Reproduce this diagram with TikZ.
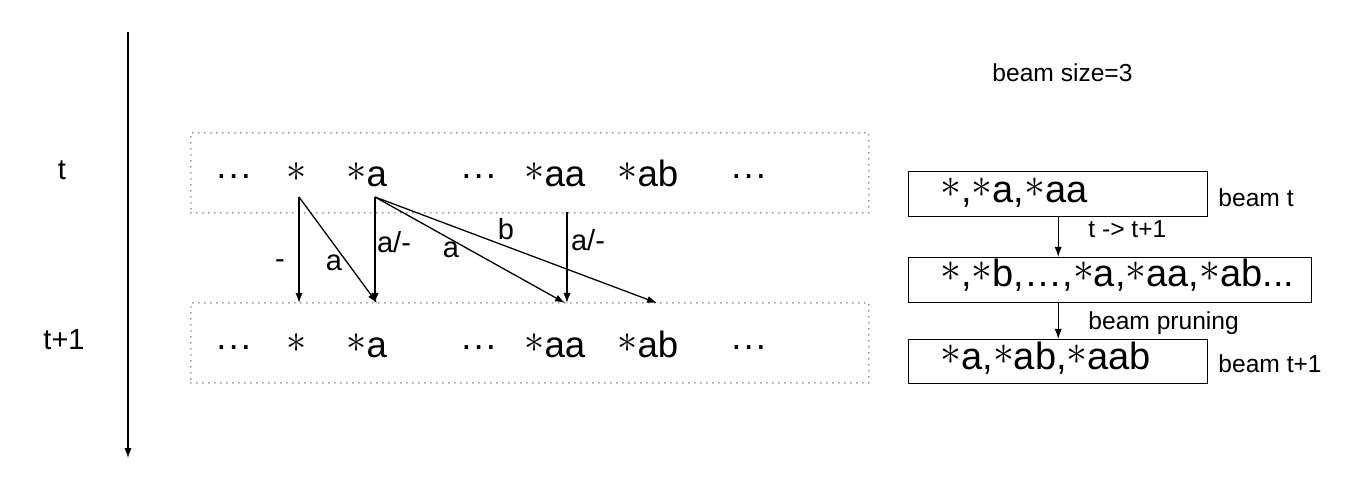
\documentclass[tikz,border=0pt]{standalone}
\usepackage{fontspec}
\usepackage{graphicx}
\setmainfont{Liberation Sans}
\usetikzlibrary{arrows.meta}
\newcommand{\stx}{\raisebox{0.15em}{\resizebox{0.55em}{!}{$\ast$}}}
\begin{document}
\begin{tikzpicture}[x=0.5pt,y=-0.5pt,
  rowtext/.style={font=\fontsize{18.3}{22}\selectfont, inner sep=0pt, anchor=base west},
  lbl/.style={font=\fontsize{14.5}{17}\selectfont, inner sep=0pt},
  side/.style={font=\fontsize{12.3}{15}\selectfont, inner sep=0pt, anchor=base west},
  boxtext/.style={font=\fontsize{19}{23}\selectfont, inner sep=0pt, anchor=base west},
  rowbox/.style={draw=gray, line width=0.9pt, dash pattern=on 0pt off 3pt, line cap=round, minimum width=339pt, minimum height=40pt, anchor=north west, inner sep=0pt},
  beambox/.style={draw, line width=0.7pt, anchor=north west, inner sep=0pt, minimum height=22.5pt},
  arr/.style={-{Latex[length=5pt,width=3.6pt]}, line width=0.65pt},
]
\useasboundingbox (0,0) rectangle (1370,480);

% time axis
\coordinate (ax0) at (128,32);
\coordinate (ax1) at (128,458);
\draw[arr] (ax0) -- (ax1);
\node[lbl, anchor=base] (lt) at (62,180) {t};
\node[lbl, anchor=base] (lt1) at (64,350) {t+1};

% row boxes
\node[rowbox] (tbox) at (190,132) {};
\node[rowbox] (bbox) at (190,302) {};

% top row
\node[rowtext] (td1) at (215,187) {···};
\node[rowtext] (ts) at (286,187) {\stx};
\node[rowtext] (ta) at (346,187) {\stx a};
\node[rowtext] (td2) at (460,187) {···};
\node[rowtext] (taa) at (524,187) {\stx aa};
\node[rowtext] (tab) at (617,187) {\stx ab};
\node[rowtext] (td3) at (730,187) {···};

% bottom row
\node[rowtext] (bd1) at (215,358) {···};
\node[rowtext] (bs1) at (286,358) {\stx};
\node[rowtext] (ba) at (346,358) {\stx a};
\node[rowtext] (bd2) at (460,358) {···};
\node[rowtext] (baa) at (524,358) {\stx aa};
\node[rowtext] (bab) at (617,358) {\stx ab};
\node[rowtext] (bd3) at (730,358) {···};

% transitions
\coordinate (s1) at (299,197);
\coordinate (s2) at (375,197);
\coordinate (s3) at (567,212);
\coordinate (e1) at (299,303);
\coordinate (e2) at (377,303);
\coordinate (e3) at (375,303);
\coordinate (e4) at (565,303);
\coordinate (e5) at (657,303);
\coordinate (e6) at (567,303);
\draw[arr] (s1) -- (e1);
\draw[arr] (s1) -- (e2);
\draw[arr] (s2) -- (e3);
\draw[arr] (s2) -- (e4);
\draw[arr] (s2) -- (e5);
\draw[arr] (s3) -- (e6);
\node[lbl] (l1) at (280,264) {-};
\node[lbl] (l2) at (334,263) {a};
\node[lbl] (l3) at (394,242) {a/-};
\node[lbl] (l4) at (451,250) {a};
\node[lbl] (l5) at (506,229) {b};
\node[lbl] (l6) at (588,240) {a/-};

% beam panel
\node[side] (bsz) at (992,82) {beam size=3};
\node[beambox, minimum width=149.5pt] (bx1) at (908,171) {};
\node[beambox, minimum width=201.5pt] (bx2) at (908,257) {};
\node[beambox, minimum width=149.5pt, minimum height=22pt] (bx3) at (908,339) {};
\node[boxtext] (bt1) at (940,203) {\stx,\stx a,\stx aa};
\node[boxtext] (bt2) at (940,287) {\stx,\stx b,…,\stx a,\stx aa,\stx ab...};
\node[boxtext] (bt3) at (940,370) {\stx a,\stx ab,\stx aab};
\node[side] (lbt) at (1218,207) {beam t};
\node[side] (lbt1) at (1218,373) {beam t+1};
\node[side] (ltt) at (1088,238) {t -> t+1};
\node[side] (lbp) at (1088,330) {beam pruning};
\draw[arr] (bx1.south) -- (bx1.south |- bx2.north);
\draw[arr] (bx2.south -| bx1.south) -- (bx3.north);
\end{tikzpicture}
\end{document}
